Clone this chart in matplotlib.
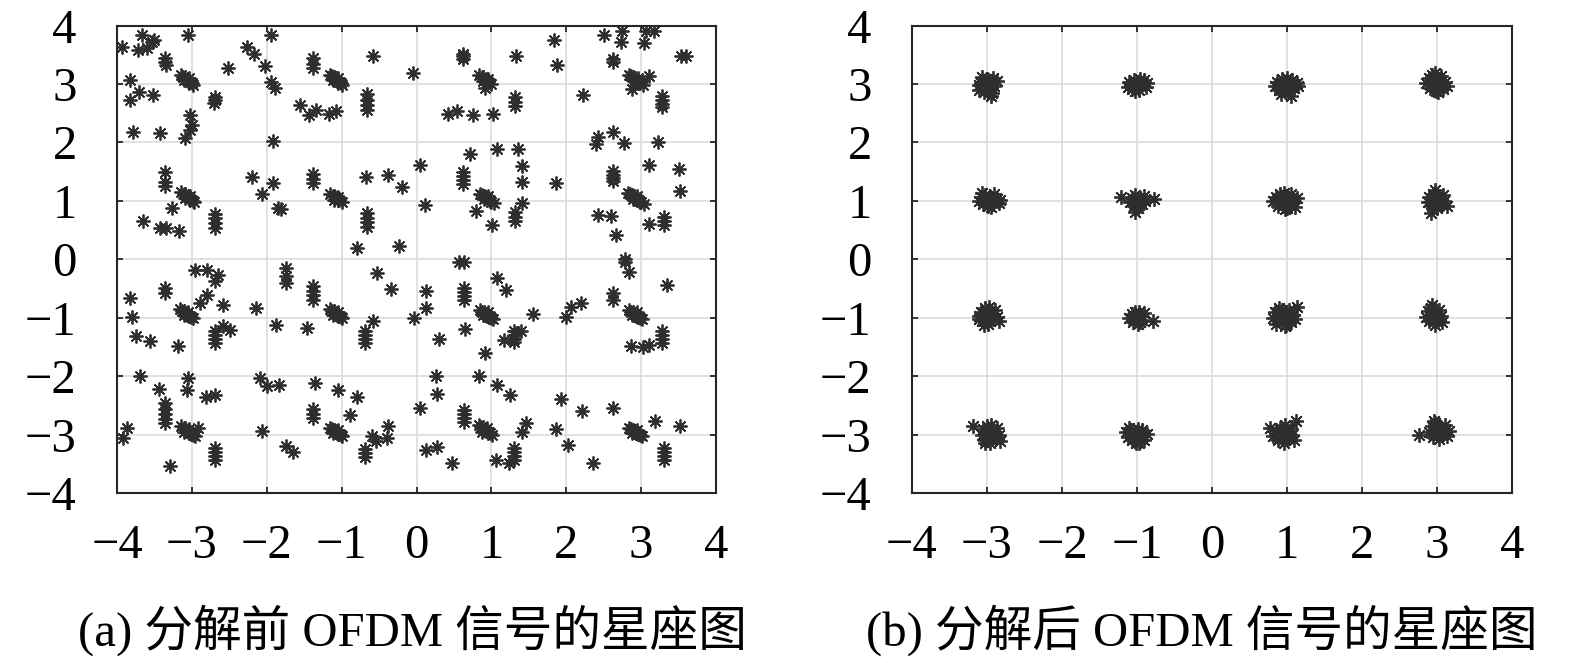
import matplotlib
matplotlib.use("Agg")
import matplotlib.pyplot as plt
import numpy as np

plt.rcParams['font.family'] = ['Liberation Serif', 'Noto Sans CJK SC', 'DejaVu Sans']

#### data

# (a) before decomposition: scattered single symbols
before_single = [
    (-3.94, 3.64), (-3.66, 3.84), (-3.72, 3.58), (-3.60, 3.62), (-3.53, 3.72), (-3.50, 3.76),
    (-3.05, 3.84), (-3.83, 3.07), (-3.70, 2.86), (-3.83, 2.73), (-3.52, 2.81), (-3.03, 2.47),
    (-3.00, 2.29), (-3.03, 2.22), (-3.09, 2.07), (-3.78, 2.17), (-3.43, 2.16), (-2.52, 3.27),
    (-2.27, 3.64), (-2.17, 3.52), (-2.02, 3.31), (-1.94, 3.84), (-1.94, 3.04), (-1.89, 2.93),
    (-1.92, 2.02), (-1.56, 2.64), (-1.43, 2.47), (-1.34, 2.56), (-1.17, 2.49), (-1.07, 2.53),
    (-0.58, 3.47), (-0.05, 3.18),
    (-3.36, 1.50), (-3.36, 1.32), (-3.36, 1.25), (-3.27, 0.87), (-3.65, 0.65), (-3.43, 0.53),
    (-3.34, 0.53), (-3.17, 0.48), (-2.20, 1.40), (-1.92, 1.30), (-2.07, 1.12), (-1.85, 0.88),
    (-1.81, 0.86), (-0.67, 1.40), (-0.38, 1.44), (-0.20, 1.24), (-0.79, 0.19), (-0.23, 0.22),
    (0.05, 1.62),
    (1.84, 3.75), (1.88, 3.32), (1.33, 3.47), (0.91, 2.93), (0.42, 2.49), (0.54, 2.53),
    (0.75, 2.47), (1.02, 2.49), (2.51, 3.84), (2.75, 3.90), (2.73, 3.72), (3.06, 3.90),
    (3.17, 3.90), (3.04, 3.70), (3.53, 3.47), (3.60, 3.47), (3.11, 3.13), (2.88, 2.91),
    (2.23, 2.81), (2.42, 2.10), (2.40, 1.98), (2.62, 2.18), (2.77, 1.99), (3.23, 2.01),
    (1.08, 1.89), (1.35, 1.89), (0.72, 1.80), (1.41, 1.59), (1.41, 1.33), (1.41, 0.96),
    (1.86, 1.30), (0.80, 0.83), (1.01, 0.58), (0.12, 0.93), (3.11, 1.62), (3.50, 1.54),
    (3.52, 1.16), (2.43, 0.76), (2.60, 0.74), (2.66, 0.42), (3.11, 0.60), (2.79, 0.00),
    (-2.96, -0.18), (-2.80, -0.18), (-2.65, -0.27), (-2.69, -0.38), (-2.80, -0.61), (-2.89, -0.75),
    (-2.59, -0.78), (-3.36, -0.49), (-3.36, -0.58), (-3.83, -0.66), (-3.80, -0.98), (-2.58, -1.15),
    (-2.49, -1.21), (-3.74, -1.31), (-3.56, -1.40), (-3.18, -1.48), (-2.14, -0.84), (-1.74, -0.15),
    (-1.74, -0.29), (-1.74, -0.41), (-1.87, -1.12), (-1.46, -1.18), (-0.58, -1.06), (-0.53, -0.24),
    (-0.34, -0.51), (-0.03, -1.01),
    (-3.69, -2.00), (-3.44, -2.22), (-3.05, -2.03), (-3.07, -2.23), (-3.36, -2.46), (-2.81, -2.35),
    (-2.69, -2.32), (-2.92, -2.89), (-3.87, -2.89), (-3.92, -3.06), (-3.29, -3.53), (-2.09, -2.03),
    (-2.00, -2.17), (-1.83, -2.15), (-1.36, -2.11), (-1.05, -2.23), (-0.80, -2.35), (-0.89, -2.66),
    (-2.06, -2.94), (-1.74, -3.20), (-1.65, -3.29), (-0.60, -3.03), (-0.54, -3.11), (-0.40, -3.06),
    (-0.38, -2.86), (0.05, -2.54),
    (0.57, -0.04), (0.64, -0.05), (0.13, -0.55), (0.13, -0.84), (1.08, -0.32), (1.19, -0.52),
    (0.65, -1.19), (0.30, -1.36), (1.17, -1.38), (1.40, -1.23), (0.91, -1.60), (1.56, -0.93),
    (1.99, -0.98), (2.06, -0.81), (2.20, -0.75), (2.62, -0.58), (2.62, -0.69), (2.79, -0.04),
    (2.84, -0.21), (3.35, -0.44), (2.86, -1.48), (3.02, -1.50), (3.11, -1.46),
    (0.26, -2.00), (0.28, -2.31), (0.83, -2.00), (1.07, -2.15), (1.25, -2.33), (1.46, -2.80),
    (1.41, -2.96), (1.86, -2.90), (1.93, -2.39), (2.21, -2.59), (2.62, -2.54), (0.13, -3.27),
    (0.28, -3.21), (0.48, -3.48), (1.06, -3.43), (1.24, -3.48), (2.02, -3.17), (2.36, -3.48),
    (3.19, -2.76), (3.52, -2.85),
]

# (a) before decomposition: dense little clusters
before_clusters = [
    (-3.36, 3.44), (-3.36, 3.38), (-3.35, 3.32),
    (-3.15, 3.15), (-3.12, 3.12), (-3.09, 3.09), (-3.06, 3.07), (-3.03, 3.04), (-3.00, 3.02),
    (-2.98, 2.99), (-3.10, 3.06), (-3.04, 3.10),
    (-2.69, 2.78), (-2.69, 2.73), (-2.70, 2.68),
    (-1.38, 3.44), (-1.38, 3.35), (-1.38, 3.27),
    (-1.16, 3.16), (-1.13, 3.13), (-1.10, 3.10), (-1.07, 3.07), (-1.04, 3.04), (-1.01, 3.02),
    (-0.99, 2.99), (-1.11, 3.06), (-1.05, 3.10),
    (-0.66, 2.82), (-0.66, 2.73), (-0.66, 2.64), (-0.66, 2.56),
    (-3.14, 1.15), (-3.11, 1.12), (-3.08, 1.09), (-3.05, 1.06), (-3.02, 1.03), (-2.99, 1.00),
    (-2.97, 0.98), (-3.09, 1.04), (-3.03, 1.09),
    (-2.69, 0.78), (-2.69, 0.70), (-2.69, 0.62), (-2.69, 0.54),
    (-1.38, 1.46), (-1.38, 1.38), (-1.38, 1.31),
    (-1.15, 1.12), (-1.12, 1.09), (-1.09, 1.06), (-1.06, 1.04), (-1.03, 1.01), (-1.00, 0.98),
    (-1.10, 1.02), (-1.05, 1.07),
    (-0.66, 0.79), (-0.66, 0.71), (-0.66, 0.63), (-0.66, 0.55),
    (0.62, 3.52), (0.62, 3.47), (0.62, 3.42),
    (0.84, 3.15), (0.87, 3.12), (0.90, 3.09), (0.93, 3.06), (0.96, 3.03), (0.99, 3.00),
    (0.89, 3.05), (0.95, 3.09),
    (1.31, 2.77), (1.31, 2.69), (1.31, 2.62),
    (2.62, 3.43), (2.62, 3.38),
    (2.84, 3.16), (2.87, 3.13), (2.90, 3.10), (2.93, 3.07), (2.96, 3.04), (2.99, 3.01),
    (3.02, 2.99), (2.90, 3.05), (2.96, 3.10),
    (3.28, 2.79), (3.28, 2.72), (3.28, 2.66), (3.28, 2.60),
    (0.62, 1.49), (0.62, 1.42), (0.62, 1.35), (0.62, 1.29),
    (0.85, 1.12), (0.88, 1.10), (0.91, 1.07), (0.94, 1.04), (0.97, 1.01), (1.00, 0.98),
    (1.03, 0.96), (0.90, 1.03), (0.96, 1.08),
    (1.31, 0.81), (1.31, 0.73), (1.31, 0.66),
    (2.62, 1.51), (2.62, 1.45), (2.62, 1.39), (2.62, 1.34),
    (2.82, 1.14), (2.85, 1.11), (2.88, 1.08), (2.91, 1.06), (2.94, 1.03), (2.97, 1.00),
    (3.00, 0.98), (3.04, 0.95), (2.89, 1.03), (2.95, 1.09),
    (3.31, 0.72), (3.31, 0.65), (3.31, 0.58),
    (-1.38, -0.46), (-1.38, -0.54), (-1.38, -0.62), (-1.38, -0.70),
    (-3.16, -0.85), (-3.13, -0.88), (-3.10, -0.91), (-3.07, -0.94), (-3.04, -0.97), (-3.01, -0.99),
    (-2.98, -1.01), (-3.11, -0.96), (-3.05, -0.90),
    (-2.69, -1.23), (-2.69, -1.30), (-2.69, -1.37), (-2.69, -1.43),
    (-1.16, -0.85), (-1.13, -0.88), (-1.10, -0.91), (-1.07, -0.94), (-1.04, -0.97), (-1.01, -0.99),
    (-0.99, -1.01), (-1.11, -0.96), (-1.05, -0.90),
    (-0.69, -1.23), (-0.69, -1.30), (-0.69, -1.37), (-0.69, -1.43),
    (-3.36, -2.57), (-3.36, -2.65), (-3.36, -2.73), (-3.36, -2.80),
    (-3.14, -2.86), (-3.11, -2.89), (-3.08, -2.92), (-3.05, -2.95), (-3.02, -2.98), (-2.99, -3.00),
    (-2.96, -3.02), (-3.10, -2.96), (-3.04, -2.90),
    (-2.69, -3.23), (-2.69, -3.30), (-2.69, -3.37), (-2.69, -3.44),
    (-1.38, -2.57), (-1.38, -2.65), (-1.38, -2.72),
    (-1.16, -2.88), (-1.13, -2.91), (-1.10, -2.93), (-1.07, -2.96), (-1.04, -2.99), (-1.01, -3.01),
    (-0.99, -3.03), (-1.11, -2.98), (-1.05, -2.92),
    (-0.69, -3.24), (-0.69, -3.31), (-0.69, -3.38),
    (0.63, -0.49), (0.63, -0.56), (0.63, -0.63), (0.63, -0.69),
    (0.85, -0.87), (0.88, -0.90), (0.91, -0.93), (0.94, -0.96), (0.97, -0.98), (1.00, -1.00),
    (1.02, -1.02), (0.89, -0.96), (0.95, -0.91),
    (1.30, -1.22), (1.30, -1.29), (1.30, -1.36), (1.30, -1.42),
    (2.84, -0.87), (2.87, -0.90), (2.90, -0.93), (2.93, -0.96), (2.96, -0.98), (2.99, -1.00),
    (3.01, -1.02), (2.88, -0.96), (2.94, -0.91),
    (3.28, -1.23), (3.28, -1.30), (3.28, -1.37), (3.28, -1.43),
    (0.63, -2.58), (0.63, -2.65), (0.63, -2.72), (0.63, -2.79),
    (0.83, -2.84), (0.86, -2.87), (0.89, -2.90), (0.92, -2.93), (0.95, -2.96), (0.98, -2.98),
    (1.01, -3.00), (0.88, -2.95), (0.94, -2.89),
    (1.30, -3.23), (1.30, -3.30), (1.30, -3.37), (1.30, -3.43),
    (2.84, -2.88), (2.87, -2.91), (2.90, -2.94), (2.93, -2.97), (2.96, -2.99), (2.99, -3.01),
    (3.01, -3.03), (2.88, -2.97), (2.94, -2.92),
    (3.31, -3.23), (3.31, -3.30), (3.31, -3.37), (3.31, -3.44),
]

# (b) after decomposition: 16-QAM blobs
after_pts = [
    # row y = 3
    (-3.10, 2.90), (-3.08, 3.02), (-3.04, 2.86), (-3.02, 2.96), (-3.00, 3.08), (-2.98, 2.92),
    (-2.96, 3.02), (-2.93, 2.85), (-2.92, 3.10), (-2.90, 2.97), (-2.87, 3.05), (-3.06, 3.12),
    (-2.95, 2.80), (-3.11, 2.98), (-3.01, 3.00), (-2.94, 2.94),
    (-1.12, 2.95), (-1.10, 3.03), (-1.06, 2.91), (-1.04, 3.06), (-1.01, 2.97), (-0.99, 3.04),
    (-0.97, 2.90), (-0.94, 3.00), (-0.91, 3.06), (-0.88, 2.95), (-0.86, 3.01), (-1.08, 2.99),
    (-0.96, 3.08), (-1.02, 2.88), (-1.00, 3.00),
    (0.84, 2.96), (0.87, 3.04), (0.90, 2.90), (0.93, 3.08), (0.96, 2.97), (0.99, 3.04),
    (1.01, 2.88), (1.04, 2.99), (1.07, 3.06), (1.10, 2.93), (1.13, 3.01), (1.15, 2.96),
    (1.06, 2.80), (0.92, 2.83), (1.00, 3.10), (1.00, 2.97),
    (2.86, 3.02), (2.89, 3.10), (2.91, 2.93), (2.94, 3.16), (2.96, 3.03), (2.99, 2.88),
    (3.01, 3.09), (3.03, 2.98), (3.06, 3.13), (3.08, 2.92), (3.11, 3.04), (3.13, 2.97),
    (2.97, 3.19), (3.02, 2.86), (3.00, 3.02),
    # row y = 1
    (-3.10, 1.00), (-3.08, 1.07), (-3.05, 0.94), (-3.02, 1.10), (-3.00, 1.01), (-2.98, 0.92),
    (-2.96, 1.06), (-2.93, 0.98), (-2.90, 1.12), (-2.87, 1.03), (-2.84, 0.96), (-3.06, 1.13),
    (-2.95, 0.89), (-2.82, 1.01), (-2.97, 1.02),
    (-1.09, 0.98), (-1.07, 1.05), (-1.04, 0.91), (-1.02, 1.10), (-1.00, 0.99), (-0.98, 0.88),
    (-0.96, 1.04), (-0.93, 0.95), (-0.91, 1.08), (-0.89, 0.99), (-1.05, 1.00), (-0.97, 0.93),
    (-1.21, 1.06), (-0.77, 1.03), (-1.02, 0.81),
    (0.82, 0.99), (0.85, 1.07), (0.88, 0.92), (0.91, 1.12), (0.94, 1.00), (0.97, 0.86),
    (0.99, 1.06), (1.02, 0.95), (1.05, 1.11), (1.08, 1.00), (1.11, 0.90), (1.13, 1.04),
    (0.96, 1.14), (1.00, 0.88), (0.98, 1.00),
    (2.88, 0.98), (2.90, 1.06), (2.93, 0.91), (2.95, 1.12), (2.98, 1.00), (3.00, 0.87),
    (3.02, 1.07), (3.05, 0.95), (3.08, 1.10), (3.10, 1.00), (3.13, 0.92), (2.97, 1.18),
    (2.92, 0.80), (3.04, 1.02),
    # row y = -1
    (-3.11, -0.97), (-3.08, -0.90), (-3.06, -1.05), (-3.03, -0.84), (-3.00, -0.98), (-2.98, -1.10),
    (-2.95, -0.92), (-2.92, -1.03), (-2.89, -0.87), (-2.86, -0.99), (-2.84, -1.06), (-3.04, -1.12),
    (-2.97, -0.82), (-3.10, -1.02), (-2.98, -0.99),
    (-1.10, -1.00), (-1.07, -0.94), (-1.05, -1.07), (-1.02, -0.91), (-1.00, -1.02), (-0.98, -1.10),
    (-0.95, -0.96), (-0.93, -1.04), (-0.91, -0.92), (-1.04, -0.99), (-0.97, -0.90), (-0.79, -1.05),
    (-0.96, -1.08),
    (0.81, -1.00), (0.84, -0.91), (0.86, -1.10), (0.89, -0.84), (0.92, -1.03), (0.95, -0.93),
    (0.97, -1.15), (1.00, -0.98), (1.03, -0.87), (1.05, -1.07), (1.08, -0.95), (1.11, -1.02),
    (1.14, -0.81), (0.99, -1.12), (0.93, -0.86), (0.98, -1.00),
    (2.85, -0.98), (2.88, -0.89), (2.90, -1.06), (2.92, -0.83), (2.95, -1.00), (2.97, -1.12),
    (2.99, -0.92), (3.01, -1.04), (3.03, -0.86), (3.05, -0.97), (3.07, -1.08), (2.94, -0.79),
    (2.98, -1.01),
    # row y = -3
    (-3.07, -3.00), (-3.05, -2.90), (-3.03, -3.10), (-3.00, -2.86), (-2.98, -3.02), (-2.96, -3.14),
    (-2.93, -2.93), (-2.90, -3.05), (-2.87, -2.88), (-2.84, -3.00), (-2.82, -3.11), (-3.02, -3.15),
    (-2.95, -2.84), (-3.18, -2.86), (-2.97, -2.99),
    (-1.15, -2.95), (-1.12, -3.04), (-1.10, -2.88), (-1.07, -3.10), (-1.04, -2.98), (-1.01, -3.14),
    (-0.99, -2.90), (-0.96, -3.03), (-0.93, -2.93), (-0.90, -3.09), (-0.87, -2.99), (-1.08, -2.92),
    (-0.97, -3.15), (-1.02, -3.06), (-1.00, -3.00),
    (0.82, -3.02), (0.85, -2.93), (0.88, -3.10), (0.91, -2.88), (0.94, -3.00), (0.96, -3.14),
    (0.99, -2.95), (1.02, -3.06), (1.05, -2.90), (1.07, -3.01), (1.10, -3.09), (0.97, -2.84),
    (1.12, -2.76), (0.77, -2.88),
    (2.90, -2.95), (2.93, -2.86), (2.95, -3.04), (2.98, -2.80), (3.00, -2.97), (3.03, -3.07),
    (3.05, -2.89), (3.08, -2.99), (3.11, -2.84), (3.13, -3.03), (3.16, -2.94), (2.96, -2.76),
    (2.76, -3.00), (3.01, -2.91),
]

ticks = [-4, -3, -2, -1, 0, 1, 2, 3, 4]
captions = ['(a) 分解前 OFDM 信号的星座图', '(b) 分解后 OFDM 信号的星座图']

#### plot
star = (8, 2, 0)   # asterisk like matlab '*'
mcol = '#2e2e2e'

fig = plt.figure(figsize=(15.75, 6.63), dpi=100)
ax1 = fig.add_axes([0.0743, 0.2564, 0.3803, 0.7051])
ax2 = fig.add_axes([0.5790, 0.2564, 0.3810, 0.7051])

a = np.array(before_single + before_clusters)
ax1.plot(a[:, 0], a[:, 1], linestyle='none', marker=star, ms=10, mew=1.3, color=mcol)
b = np.array(after_pts)
ax2.plot(b[:, 0], b[:, 1], linestyle='none', marker=star, ms=10.5, mew=1.3, color=mcol)

for ax in (ax1, ax2):
    ax.set_xlim(-4, 4)
    ax.set_ylim(-4, 4)
    ax.set_xticks(ticks)
    ax.set_yticks(ticks)
    ax.grid(True, color='#dcdcdc', lw=1.2)
    ax.set_axisbelow(True)
    ax.tick_params(direction='in', length=4, width=1.3, top=True, right=True,
                   labelsize=35, color='#262626')
    ax.tick_params(axis='x', pad=22)
    ax.tick_params(axis='y', pad=29)
    for s in ax.spines.values():
        s.set_color('#262626')
        s.set_linewidth(1.5)

fig.text(0.2616, 0.05, captions[0], ha='center', va='center', fontsize=35)
fig.text(0.7630, 0.05, captions[1], ha='center', va='center', fontsize=35)

plt.savefig('out.png', dpi=100)
